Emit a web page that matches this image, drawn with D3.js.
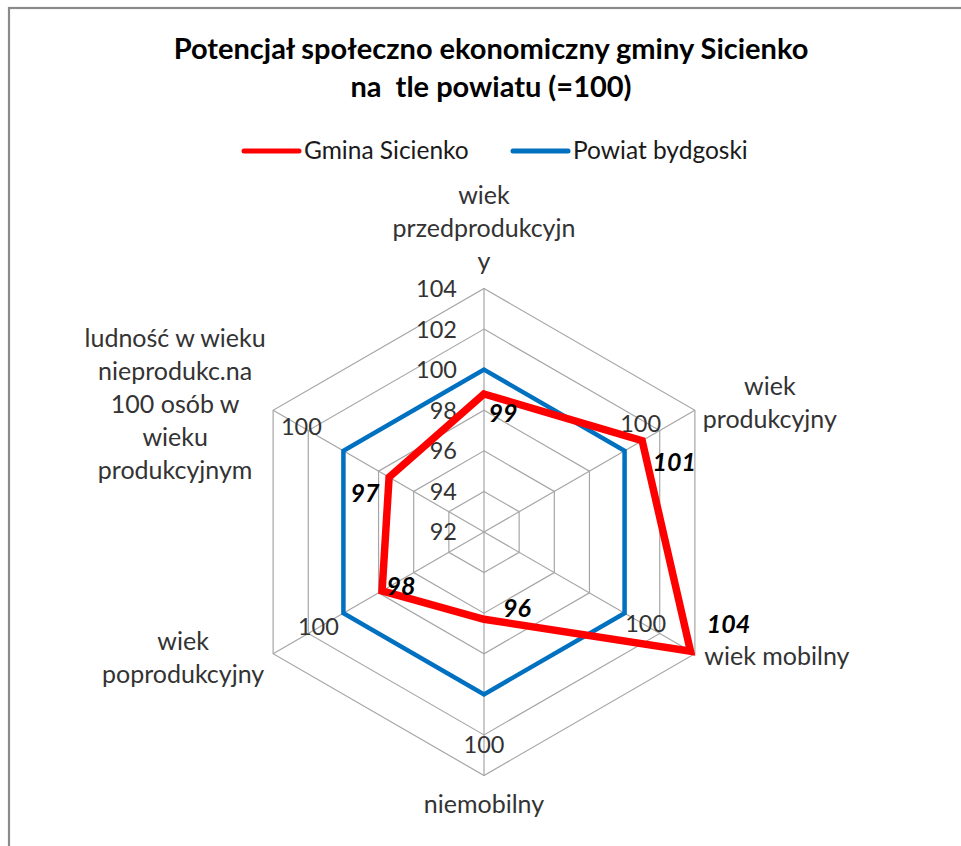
<!DOCTYPE html>
<html>
<head>
<meta charset="utf-8">
<script src="https://cdn.jsdelivr.net/npm/d3@7"></script>
<style>
  body { margin: 0; background: #fff; }
  svg { display: block; font-family: Lato, "Open Sans", sans-serif; }
</style>
</head>
<body>
<svg id="chart" width="961" height="846"></svg>
<script>
// radar: Gmina Sicienko vs Powiat bydgoski (=100)
const titleLines = ["Potencjał społeczno ekonomiczny gminy Sicienko", "na  tle powiatu (=100)"];
const categories = [
  ["wiek", "przedprodukcyjn", "y"],
  ["wiek", "produkcyjny"],
  ["wiek mobilny"],
  ["niemobilny"],
  ["wiek", "poprodukcyjny"],
  ["ludność w wieku", "nieprodukc.na", "100 osób w", "wieku", "produkcyjnym"]
];
const gminaValues = [98.8, 101.0, 103.75, 96.3, 97.8, 97.4];
const gminaLabels = ["99", "101", "104", "96", "98", "97"];
const powiatValues = [100, 100, 100, 100, 100, 100];
const powiatLabels = [null, "100", "100", "100", "100", "100"];
const ticks = [92, 94, 96, 98, 100, 102, 104];
const seriesNames = ["Gmina Sicienko", "Powiat bydgoski"];
const seriesColors = ["#ff0000", "#0070c0"];

const svg = d3.select("#chart");
const cx = 484, cy = 532;
const r = d3.scaleLinear().domain([92, 104]).range([0, 243.5]);
const angle = d3.scaleLinear().domain([0, categories.length]).range([0, 2 * Math.PI]);

function pt(i, v) {
  const a = angle(i);
  return [cx + r(v) * Math.sin(a), cy - r(v) * Math.cos(a)];
}

// frame
svg.append("rect")
  .attr("x", 9).attr("y", 8)
  .attr("width", 1100).attr("height", 1100)
  .attr("fill", "none")
  .attr("stroke", "#8a8a8a")
  .attr("stroke-width", 2.2);

// title
svg.append("g").selectAll("text")
  .data(titleLines)
  .join("text")
  .attr("x", 491)
  .attr("y", (d, i) => 59 + i * 38)
  .attr("text-anchor", "middle")
  .attr("font-size", 29)
  .attr("font-weight", "bold")
  .attr("fill", "#000")
  .style("white-space", "pre")
  .text(d => d);

// legend
const legendX = [244, 513];
const leg = svg.append("g");
seriesNames.forEach((name, i) => {
  leg.append("line")
    .attr("x1", legendX[i]).attr("x2", legendX[i] + 55)
    .attr("y1", 151).attr("y2", 151)
    .attr("stroke", seriesColors[i])
    .attr("stroke-width", 5)
    .attr("stroke-linecap", "round");
  leg.append("text")
    .attr("x", legendX[i] + 60)
    .attr("y", 159)
    .attr("font-size", 24.5)
    .attr("fill", "#1a1a1a")
    .text(name);
});

// grid rings
const lineRadial = d3.line();
const grid = svg.append("g");
ticks.slice(1).forEach(t => {
  const ring = categories.map((c, i) => pt(i, t));
  grid.append("path")
    .attr("d", lineRadial(ring) + "Z")
    .attr("fill", "none")
    .attr("stroke", "#a6a6a6")
    .attr("stroke-width", 1.2);
});
categories.forEach((c, i) => {
  const [x2, y2] = pt(i, 104);
  grid.append("line")
    .attr("x1", cx).attr("y1", cy)
    .attr("x2", x2).attr("y2", y2)
    .attr("stroke", "#a6a6a6")
    .attr("stroke-width", 1.2);
});

// tick labels along top axis
svg.append("g").selectAll("text")
  .data(ticks)
  .join("text")
  .attr("x", cx - 27)
  .attr("y", d => cy - r(d))
  .attr("dy", "0.36em")
  .attr("text-anchor", "end")
  .attr("font-size", 23.5)
  .attr("fill", "#333")
  .text(d => d);

// category labels (offset of first baseline from outer vertex)
const catOffsets = [[0, -85], [75, -15], [82, 11], [0, 37], [-90, -4], [-98, -63]];
categories.forEach((lines, i) => {
  const [vx, vy] = pt(i, 104);
  svg.append("text")
    .attr("text-anchor", "middle")
    .attr("font-size", 25)
    .attr("fill", "#333")
    .selectAll("tspan")
    .data(lines)
    .join("tspan")
    .attr("x", vx + catOffsets[i][0])
    .attr("y", (d, j) => vy + catOffsets[i][1] + j * 33)
    .text(d => d);
});

// series
const series = [powiatValues, gminaValues];
const seriesIdx = [1, 0];
const widths = [4.5, 7.5];
series.forEach((vals, k) => {
  svg.append("path")
    .attr("d", lineRadial(vals.map((v, i) => pt(i, v))) + "Z")
    .attr("fill", "none")
    .attr("stroke", seriesColors[seriesIdx[k]])
    .attr("stroke-width", widths[k])
    .attr("stroke-linejoin", "miter")
    .attr("stroke-miterlimit", 10);
});

// data labels
const powiatOffsets = [[0, 0], [16, -27], [21, 10], [0, 50], [-25, 13], [-42, -24]];
powiatValues.forEach((v, i) => {
  if (!powiatLabels[i]) return;
  const [x, y] = pt(i, v);
  svg.append("text")
    .attr("x", x + powiatOffsets[i][0])
    .attr("y", y + powiatOffsets[i][1])
    .attr("dy", "0.36em")
    .attr("text-anchor", "middle")
    .attr("font-size", 23.5)
    .attr("fill", "#333")
    .text(powiatLabels[i]);
});

const gminaOffsets = [[19, 19], [32, 21], [38, -27], [33, -11], [19, -5], [-24, 16]];
gminaValues.forEach((v, i) => {
  const [x, y] = pt(i, v);
  svg.append("text")
    .attr("x", x + gminaOffsets[i][0])
    .attr("y", y + gminaOffsets[i][1])
    .attr("dy", "0.36em")
    .attr("text-anchor", "middle")
    .attr("font-size", 25)
    .attr("font-weight", "bold")
    .attr("font-style", "italic")
    .attr("fill", "#000")
    .text(gminaLabels[i]);
});
</script>
</body>
</html>
